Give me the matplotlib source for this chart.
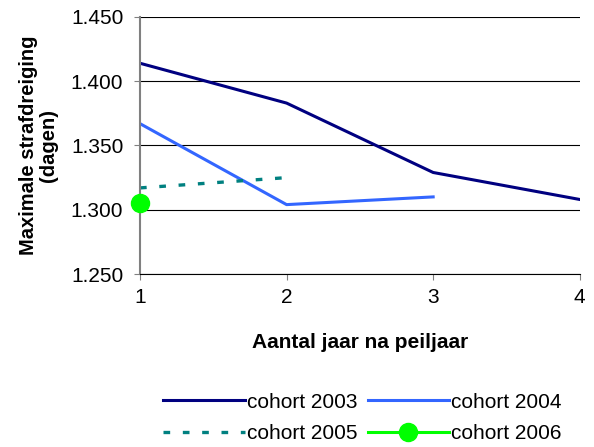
import matplotlib.pyplot as plt
from matplotlib.ticker import FuncFormatter

plt.rcParams['font.family'] = ['Liberation Sans', 'DejaVu Sans']

# data: maximale strafdreiging (dagen) per cohort
years_2003 = [1, 2, 3, 4]
vals_2003 = [1414, 1383, 1329, 1308]
years_2004 = [1, 2, 3]
vals_2004 = [1367, 1304, 1310]
years_2005 = [1, 2]
vals_2005 = [1317, 1325]
years_2006 = [1]
vals_2006 = [1305]

fig = plt.figure(figsize=(5.94, 4.47), dpi=100)
ax = fig.add_axes([0.2357, 0.387, 0.7403, 0.575])

l03, = ax.plot(years_2003, vals_2003, color="#000080", lw=2.2, label="cohort 2003")
l04, = ax.plot(years_2004, vals_2004, color="#3366FF", lw=2.2, label="cohort 2004")
l05, = ax.plot(years_2005, vals_2005, color="#008080", lw=2.4, dashes=(2.0, 3.8),
               label="cohort 2005")
l06, = ax.plot(years_2006, vals_2006, color="#00FF00", lw=2.2, marker="o",
               markersize=13, label="cohort 2006", clip_on=False, zorder=5)

ax.set_xlim(1, 4)
ax.set_ylim(1250, 1450)
ax.set_xticks([1, 2, 3, 4])
ax.set_yticks([1250, 1300, 1350, 1400, 1450])
ax.yaxis.set_major_formatter(FuncFormatter(lambda v, p: f"{v:,.0f}".replace(",", ".")))
ax.grid(axis="y", color="black", lw=0.8)
ax.set_axisbelow(True)

for side in ["top", "right"]:
    ax.spines[side].set_visible(False)
ax.spines["left"].set_color("#808080")
ax.spines["left"].set_linewidth(1.5)
ax.spines["bottom"].set_color("black")
ax.tick_params(axis="both", labelsize=15, direction="out", length=4, color="#808080")
ax.tick_params(axis="x", pad=6)
ax.tick_params(axis="y", pad=8)

ax.set_xlabel("Aantal jaar na peiljaar", fontsize=15, fontweight="bold")
ax.xaxis.set_label_coords(0.5, -0.23)
ax.set_ylabel("Maximale strafdreiging\n(dagen)", fontsize=14.5, fontweight="bold",
              linespacing=1.1)
ax.yaxis.set_label_coords(-0.186, 0.5)

# row order in reference: 2003, 2004 / 2005, 2006 (legend fills column-wise)
fig.legend([l03, l05, l04, l06],
           ["cohort 2003", "cohort 2005", "cohort 2004", "cohort 2006"],
           loc="upper center", bbox_to_anchor=(0.61, 0.14), ncol=2, frameon=False,
           fontsize=15, handlelength=3.9, handletextpad=0.1, columnspacing=0.5,
           labelspacing=0.6, borderaxespad=0)

fig.savefig("out.png", dpi=100)
